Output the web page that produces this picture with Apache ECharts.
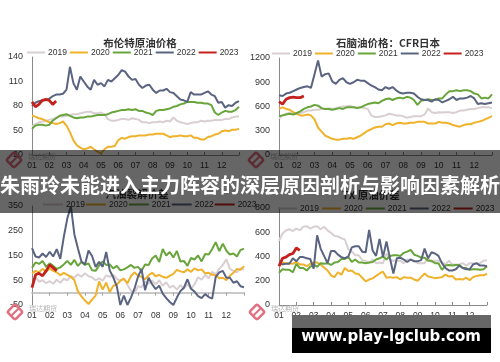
<!DOCTYPE html>
<html><head><meta charset="utf-8">
<style>html,body{margin:0;padding:0;background:#fff}#c{width:500px;height:362px}</style>
<script src="https://cdn.jsdelivr.net/npm/echarts@6/dist/echarts.min.js"></script>
</head><body><div id="c"></div>
<script>
const months=['01','02','03','04','05','06','07','08','09','10','11','12'];
const years=['2019','2020','2021','2022','2023'];
const titles=['布伦特原油价格','石脑油价格：CFR日本','汽油裂解价差','TX 原油价差'];
const yLabels1=[20,50,80,110,140];
const yLabels2=[0,300,600,900,1200];
const yLabels3=[-50,50,150,250,350];
const yLabels4=[0,200,400,600,800];
const headline='朱雨玲未能进入主力阵容的深层原因剖析与影响因素解析';
const site='www.play-lgclub.com';
const logoText='瑞达期货';

const brent2019=[55,58,60,61,62,63,64,66,67,67,68,69,70,70,71,72,73,73,71,71,72,70,64,62,62,63,64,64,63,65,64,63,60,60,59,60,60,61,60,62,61,66,62,60,59,58,59,60,60,62,61,62,62,63,63,63,64,64,66,67,67];
const brent2020=[68,67,65,64,62,60,59,58,59,61,56,48,38,32,29,27,28,30,27,24,22,27,30,30,31,38,41,40,42,43,43,44,44,44,45,45,46,46,46,44,42,43,43,44,43,43,44,41,41,39,39,42,43,45,46,49,50,49,51,51,52];
const brent2021=[52,56,57,57,56,57,62,65,68,69,70,68,66,65,66,66,67,67,68,69,69,69,70,72,73,74,75,75,76,75,76,74,74,72,71,69,74,75,75,76,77,79,80,82,83,85,85,85,84,84,83,83,81,72,69,72,74,73,73,75,79];
const brent2022=[80,84,86,87,87,89,92,94,94,95,100,128,108,100,116,110,104,100,112,106,108,104,112,110,114,118,124,122,116,112,113,106,102,105,106,100,96,99,99,101,97,96,92,88,87,85,97,94,94,94,96,98,94,92,84,85,78,81,80,84,86];
const brent2023=[85,79,82,87,88,87,82,86];

const naphtha2019=[450,490,510,520,510,510,520,530,550,550,560,560,570,570,580,570,580,590,600,600,610,590,590,590,580,570,490,470,470,480,490,510,500,490,490,480,460,470,480,480,480,500,575,530,520,530,525,530,530,520,530,550,550,560,570,570,580,590,590,590,580];
const naphtha2020=[570,590,570,560,530,510,490,490,500,490,440,340,290,240,220,200,190,190,200,200,210,200,220,240,270,300,320,340,350,350,380,390,370,390,400,390,390,400,400,410,410,410,390,390,390,410,400,400,390,370,360,350,370,380,380,400,410,420,440,460,480];
const naphtha2021=[480,490,500,510,500,520,540,570,590,600,620,610,580,570,570,560,570,580,570,590,590,590,580,590,610,630,640,650,640,670,690,700,680,700,710,700,720,710,680,620,670,680,690,680,680,700,700,750,790,790,800,790,800,800,790,760,750,700,710,700,750];
const naphtha2022=[740,730,760,770,790,810,830,840,850,830,1000,1170,970,1000,1010,910,880,930,950,900,880,900,930,920,920,890,860,840,810,800,840,820,840,800,770,760,770,770,760,720,690,680,680,660,690,680,650,670,690,720,680,700,700,710,730,700,630,640,630,640,650];
const naphtha2023=[660,630,690,710,715,710,710,730];

const gasoline2019=[20,62,44,50,38,46,36,52,40,56,50,66,60,74,64,78,66,62,50,58,48,70,64,72,56,48,58,32,8,-2,26,22,44,36,48,34,50,28,42,20,28,12,30,16,34,14,34,62,52,72,58,84,74,96,112,135,96,88,82,98,93];
const gasoline2020=[78,88,82,96,84,98,88,82,70,80,72,64,50,5,-15,-32,-46,-28,-12,45,12,40,2,28,32,48,56,38,66,82,68,64,54,70,80,66,72,64,60,68,76,92,86,82,94,84,98,90,94,78,80,72,70,58,60,50,68,80,96,92,107];
const gasoline2021=[100,122,116,128,104,118,108,96,102,114,128,112,132,108,124,112,118,90,88,110,126,112,114,98,108,90,94,102,112,100,104,88,114,112,138,150,124,176,150,164,142,168,126,128,108,140,134,150,126,156,154,176,204,168,198,170,154,158,146,172,178];
const gasoline2022=[180,146,142,158,144,165,146,176,136,225,300,350,235,178,126,114,170,148,104,124,104,164,90,62,25,-50,-12,-50,-20,16,64,96,10,60,34,14,28,-4,-22,-38,-50,-20,6,20,54,16,4,-14,-22,-6,-18,-24,64,82,88,60,60,40,46,26,22];
const gasoline2023=[20,72,78,68,88,112,100,88];

const tx2019=[530,590,615,625,610,630,615,645,650,630,645,650,625,645,615,595,570,565,550,540,460,440,410,410,370,365,345,375,345,350,345,425,375,365,365,365,345,375,375,365,345,345,345,385,355,365,365,355,335,365,335,335,335,345,325,345,345,335,345,365,370];
const tx2020=[320,350,345,345,340,355,335,335,320,340,350,350,335,310,285,245,230,270,250,305,280,285,260,255,225,195,210,220,240,260,275,225,230,225,230,210,230,225,225,210,200,230,260,235,230,220,225,230,250,235,240,210,215,210,225,205,230,240,245,245,258];
const tx2021=[265,295,290,290,270,340,305,305,285,315,335,315,345,340,345,330,350,355,380,380,395,355,375,350,350,345,350,355,375,385,400,375,405,410,410,405,430,440,455,415,405,390,390,365,365,345,345,290,325,330,325,330,330,305,305,290,295,295,290,295,320];
const tx2022=[350,335,340,340,385,360,395,395,385,380,300,575,465,405,345,445,445,415,395,385,400,475,485,485,440,435,620,450,405,545,395,525,385,260,385,390,375,355,375,360,360,370,465,385,435,425,405,345,305,285,285,295,325,305,295,295,335,345,325,325,320];
const tx2023=[320,385,395,415,425,470,450];

const colors=['#d9cfd2','#efb22a','#68a53a','#5a6480','#c4201c'];
const labelColor='#333';
const fontLat='"Liberation Sans",Arial,sans-serif';
const fontCjk='"Noto Sans CJK SC",sans-serif';

const cats=[];
for(let i=0;i<=60;i++)cats.push(i%5===0&&i<60?months[i/5]:'');

const panels=[
 {g:[32,57,207,98],min:20,max:140,step:10,labels:yLabels1,data:[brent2019,brent2020,brent2021,brent2022,brent2023],lg:[27,48,18,3],ty:43,tx:140},
 {g:[279,58,213,97],min:0,max:1200,step:100,labels:yLabels2,data:[naphtha2019,naphtha2020,naphtha2021,naphtha2022,naphtha2023],lg:[272,49,18,3],ty:43,tx:388},
 {g:[32,206,212,99],min:-50,max:350,step:50,labels:yLabels3,data:[gasoline2019,gasoline2020,gasoline2021,gasoline2022,gasoline2023],lg:[43,200,20,1],ty:194,tx:137,zero:true},
 {g:[279,208,208,97],min:0,max:800,step:100,labels:yLabels4,data:[tx2019,tx2020,tx2021,tx2022,tx2023],lg:[278,204,19,3],ty:195,tx:371}
];

const grid=[],xAxis=[],yAxis=[],series=[],legend=[],graphic=[];
panels.forEach((p,k)=>{
  grid.push({left:p.g[0],top:p.g[1],width:p.g[2],height:p.g[3]});
  const xi=xAxis.length;
  xAxis.push({type:'category',gridIndex:k,data:cats,boundaryGap:false,
    axisLine:{show:!p.zero,onZero:false,lineStyle:{color:'#8a8a8a',width:1}},
    axisTick:{show:!p.zero,inside:true,length:3,interval:i=>i%5===0,lineStyle:{color:'#8a8a8a'}},
    axisLabel:{interval:0,fontSize:8.5,color:labelColor,margin:6,fontFamily:fontLat},splitLine:{show:false}});
  if(p.zero){
    xAxis.push({type:'category',gridIndex:k,data:cats,boundaryGap:false,
      axisLine:{show:true,onZero:true,lineStyle:{color:'#c9c9c9',width:2}},
      axisTick:{show:true,inside:true,length:3,interval:i=>i%5===0,lineStyle:{color:'#a0a0a0'}},
      axisLabel:{show:false},splitLine:{show:false}});
  }
  yAxis.push({type:'value',gridIndex:k,min:p.min,max:p.max,interval:p.step,
    axisLine:{show:true,onZero:false,lineStyle:{color:'#8a8a8a',width:1}},axisTick:{show:false},splitLine:{show:false},
    axisLabel:{fontSize:9,color:labelColor,margin:9,fontFamily:fontLat,
      formatter:v=>p.labels.includes(v)?String(v):''}});
  years.forEach((y,j)=>{
    series.push({type:'line',name:y,xAxisIndex:xi,yAxisIndex:k,data:p.data[j],symbol:'none',smooth:false,
      clip:true,lineStyle:{color:colors[j],width:j===4?2.8:2},itemStyle:{color:colors[j]},z:2+j});
  });
  legend.push({data:years,icon:'rect',left:p.lg[0],top:p.lg[1],itemWidth:p.lg[2],itemHeight:2,itemGap:p.lg[3],padding:0,
    selectedMode:false,textStyle:{fontSize:8.5,color:labelColor,fontFamily:fontLat,padding:[0,0,0,-2]}});
  graphic.push({type:'text',x:p.tx,y:p.ty,z:5,style:{text:titles[k],align:'center',verticalAlign:'middle',
    font:'bold 10.5px '+fontCjk,fill:'#333'}});
});

// watermark logos
[[14,160],[256,160],[15,312],[257,312]].forEach((c,i)=>{
  graphic.push({type:'rect',x:c[0],y:c[1],rotation:Math.PI/4,z:6,silent:true,
    shape:{x:-5.5,y:-5.5,width:11,height:11,r:2},style:{fill:'none',stroke:'#e2707f',lineWidth:2.5}});
  graphic.push({type:'rect',x:c[0],y:c[1],rotation:Math.PI/4,z:6,silent:true,
    shape:{x:-5,y:-1,width:10,height:2},style:{fill:'#e2707f'}});
  graphic.push({type:'text',x:c[0]+14,y:c[1]-7,z:6,silent:true,style:{text:logoText,font:'7px '+fontCjk,fill:'#b5b5b5'}});
});

// overlays
graphic.push({type:'rect',z:50,silent:true,shape:{x:0,y:150,width:500,height:63},style:{fill:'rgba(0,0,0,0.6)'}});
graphic.push({type:'text',z:51,silent:true,x:250,y:185,style:{text:headline,align:'center',verticalAlign:'middle',font:'bold 20px '+fontCjk,fill:'#fff'}});
graphic.push({type:'rect',z:50,silent:true,shape:{x:292,y:315,width:199,height:13},style:{fill:'#666'}});
graphic.push({type:'rect',z:50,silent:true,shape:{x:292,y:328,width:199,height:25},style:{fill:'#000'}});
graphic.push({type:'text',z:51,silent:true,x:391,y:337,style:{text:site,align:'center',verticalAlign:'middle',font:'bold 15px "DejaVu Sans",sans-serif',fill:'#fff'}});

const chart=echarts.init(document.getElementById('c'),null,{renderer:'canvas'});
chart.setOption({animation:false,backgroundColor:'#fff',grid,xAxis,yAxis,series,legend,graphic});
</script></body></html>
